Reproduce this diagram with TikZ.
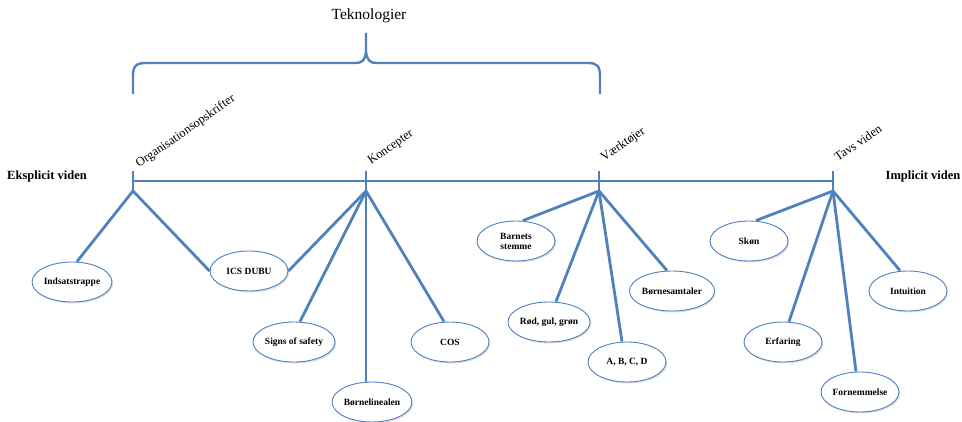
\documentclass[tikz,border=0pt]{standalone}
\usepackage{fontspec}
\setmainfont{Liberation Serif}
\usetikzlibrary{shapes.geometric,shadows}
\definecolor{lineblue}{HTML}{4F81BD}
\begin{document}
\begin{tikzpicture}[x=1pt,y=-1pt,
  branch/.style={draw=lineblue,line width=2.8pt},
  leaf/.style={ellipse,draw=lineblue,line width=0.9pt,fill=white,minimum width=78pt,minimum height=40pt,inner sep=0pt,align=center,font=\fontsize{9.5}{10}\selectfont\bfseries,
    drop shadow={shadow xshift=1.2pt,shadow yshift=-1.5pt,fill=black!25,opacity=0.5}},
  side/.style={font=\fontsize{12.5}{14}\selectfont\bfseries},
  cat/.style={font=\fontsize{12.5}{14}\selectfont,rotate=35,anchor=base west,inner sep=0pt}]
\useasboundingbox (0,0) rectangle (962,422);
% title
\node[font=\fontsize{15.5}{17}\selectfont] (title) at (369,16) {Teknologier};
% brace
\draw[branch,line width=2.4pt] (133,94) -- (133,76) .. controls (133,66) and (136,63) .. (146,63)
  -- (356,63) .. controls (362,63) and (365,60) .. (366,52) -- (366,33);
\draw[branch,line width=2.4pt] (366,52) .. controls (367,60) and (370,63) .. (376,63)
  -- (588,63) .. controls (597,63) and (600,66) .. (600,76) -- (600,94);
% ticks / coordinates
\coordinate (t1) at (133,171); \coordinate (b1) at (133,191);
\coordinate (t2) at (366,171); \coordinate (b2) at (366,191);
\coordinate (t3) at (599,171); \coordinate (b3) at (599,191);
\coordinate (t4) at (833,171); \coordinate (b4) at (833,191);
\coordinate (m1) at (133,181); \coordinate (m4) at (833,181);
\draw[branch] (m1) -- (m4);
\draw[branch] (t1) -- (b1);
\draw[branch] (t2) -- (b2);
\draw[branch] (t3) -- (b3);
\draw[branch] (t4) -- (b4);
% side labels
\node[side] (eks) at (47,176) {Eksplicit viden};
\node[side] (imp) at (923,176) {Implicit viden};
% category labels
\node[cat] (org) at (139,168) {Organisationsopskrifter};
\node[cat] (kon) at (371,165) {Koncepter};
\node[cat] (vaerk) at (604,162) {Værktøjer};
\node[cat] (tavs) at (838,162) {Tavs viden};
% leaves
\node[leaf] (ind) at (72,282) {Indsatstrappe};
\node[leaf] (ics) at (249,271) {ICS DUBU};
\node[leaf] (sos) at (294,342) {Signs of safety};
\node[leaf] (cos) at (450,342) {COS};
\node[leaf] (bl) at (372,402) {Børnelinealen};
\node[leaf] (bs) at (516,241) {Barnets\\stemme};
\node[leaf] (rgg) at (549,322) {Rød, gul, grøn};
\node[leaf] (abcd) at (627,362) {A, B, C, D};
\node[leaf] (bsa) at (672,291) {Børnesamtaler};
\node[leaf] (sk) at (749,241) {Skøn};
\node[leaf] (erf) at (783,342) {Erfaring};
\node[leaf] (forn) at (860,392) {Fornemmelse};
\node[leaf] (int) at (908,291) {Intuition};
% connectors
\draw[branch] (b1) -- ([xshift=5pt]ind.north);
\draw[branch] (b1) -- (ics.west);
\draw[branch] (b2) -- (ics.east);
\draw[branch] (b2) -- ([xshift=6pt]sos.north);
\draw[branch] (b2) -- (bl.north -| b2);
\draw[branch] (b2) -- ([xshift=-6pt]cos.north);
\draw[branch] (b3) -- ([xshift=7pt]bs.north);
\draw[branch] (b3) -- ([xshift=7pt]rgg.north);
\draw[branch] (b3) -- ([xshift=-5pt]abcd.north);
\draw[branch] (b3) -- ([xshift=-5pt]bsa.north);
\draw[branch] (b4) -- ([xshift=7pt]sk.north);
\draw[branch] (b4) -- ([xshift=6pt]erf.north);
\draw[branch] (b4) -- ([xshift=-4pt]forn.north);
\draw[branch] (b4) -- ([xshift=-8pt]int.north);
\end{tikzpicture}
\end{document}
